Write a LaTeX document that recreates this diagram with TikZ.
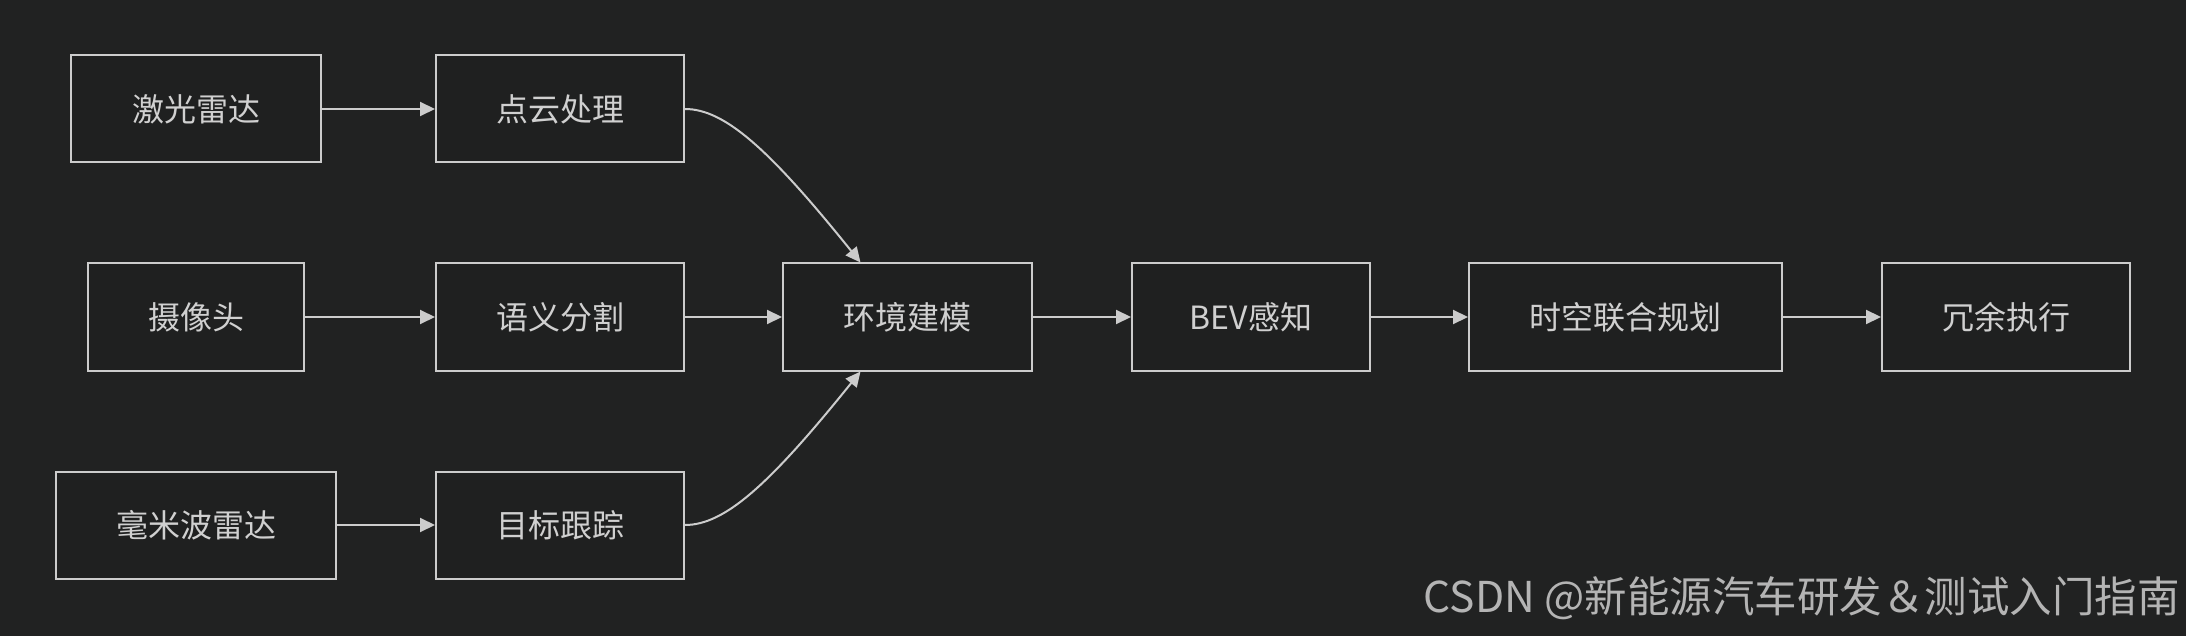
\documentclass[tikz,border=0pt]{standalone}
\usepackage{fontspec}
\setmainfont{Noto Sans CJK SC}
\newfontfamily\wmfont{Noto Sans CJK SC}
\usetikzlibrary{arrows.meta}
\definecolor{bgc}{HTML}{212222}
\definecolor{boxfill}{HTML}{1F2020}
\definecolor{linec}{HTML}{CCCCCC}
\definecolor{txtc}{HTML}{D0D0D0}
\definecolor{wmc}{HTML}{B4B4B4}
\begin{document}
\begin{tikzpicture}[x=1pt,y=-1pt,
  box/.style={draw=linec,line width=2pt,fill=boxfill,text=txtc,minimum height=107pt,inner sep=0pt,font=\fontsize{32}{34}\selectfont},
  conn/.style={draw=linec,line width=2pt,-{Triangle[length=15pt,width=14pt]}}]
\fill[bgc] (0,0) rectangle (2186,636);
\useasboundingbox (0,0) rectangle (2186,636);
\node[box,minimum width=250pt] (A) at (196,109) {激光雷达};
\node[box,minimum width=248pt] (B) at (560,109) {点云处理};
\node[box,minimum width=216pt] (C) at (196,317) {摄像头};
\node[box,minimum width=248pt] (D) at (560,317) {语义分割};
\node[box,minimum width=280pt] (E) at (196,525) {毫米波雷达};
\node[box,minimum width=248pt] (F) at (560,525) {目标跟踪};
\node[box,minimum width=249pt] (G) at (907.5,317) {环境建模};
\node[box,minimum width=238pt] (H) at (1251,317) {BEV感知};
\node[box,minimum width=313pt] (I) at (1625.5,317) {时空联合规划};
\node[box,minimum width=248pt] (J) at (2006,317) {冗余执行};
\draw[conn] (A) -- (B);
\draw[conn] (C) -- (D);
\draw[conn] (E) -- (F);
\draw[conn] (D) -- (G);
\draw[conn] (G) -- (H);
\draw[conn] (H) -- (I);
\draw[conn] (I) -- (J);
\draw[conn] (B.east) .. controls (725,109) and (770,150) .. ([xshift=-47pt]G.north);
\draw[conn] (F.east) .. controls (725,525) and (770,484) .. ([xshift=-47pt]G.south);
\node[anchor=east,text=wmc,font=\wmfont\fontsize{42.5}{44}\selectfont,inner sep=0pt] (W) at (2180,598) {CSDN @新能源汽车研发＆测试入门指南};
\end{tikzpicture}
\end{document}
